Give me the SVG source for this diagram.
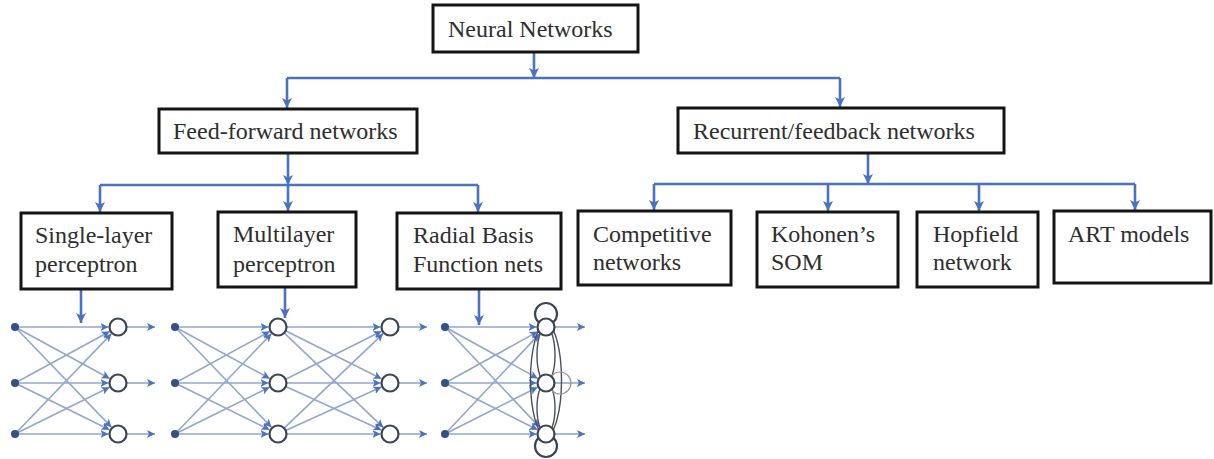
<svg xmlns="http://www.w3.org/2000/svg" width="1214" height="459" viewBox="0 0 1214 459">
<style>
.box{fill:#fff;stroke:#141414;stroke-width:3}
text{font-family:'Liberation Serif','Times New Roman',Times,'DejaVu Serif','Noto Serif',serif;font-size:24px;fill:#2e2e2e}
.conn{fill:none;stroke:#4a72c0;stroke-width:2.6}
.nl{fill:none;stroke:#93a6cf;stroke-width:1.6}
.neu{fill:#fff;stroke:#3b4457;stroke-width:2.2}
.dot{fill:#34508a}
.loop{fill:none;stroke:#4a4f5c;stroke-width:1.4}
</style>
<defs>
<marker id="arr" viewBox="0 0 10 10" refX="10" refY="5" markerUnits="userSpaceOnUse" markerWidth="10" markerHeight="10" orient="auto">
<path d="M0,0 L10,5 L0,10 L2.5,5 z" fill="#4a72c0"/>
</marker>
<marker id="arrs" viewBox="0 0 10 10" refX="10" refY="5" markerUnits="userSpaceOnUse" markerWidth="8" markerHeight="8" orient="auto">
<path d="M0,0 L10,5 L0,10 L2.5,5 z" fill="#4a72c0"/>
</marker>
</defs>
<rect width="1214" height="459" fill="#fff"/>

<g id="connectors">
<path class="conn" d="M534,52 V78" marker-end="url(#arr)"/>
<path class="conn" d="M287,78 H840"/>
<path class="conn" d="M287,78 V108" marker-end="url(#arr)"/>
<path class="conn" d="M840,78 V107" marker-end="url(#arr)"/>
<path class="conn" d="M288,153 V185" marker-end="url(#arr)"/>
<path class="conn" d="M100,185 H478"/>
<path class="conn" d="M100,185 V212" marker-end="url(#arr)"/>
<path class="conn" d="M288,185 V211" marker-end="url(#arr)"/>
<path class="conn" d="M478,185 V212" marker-end="url(#arr)"/>
<path class="conn" d="M868,153 V184" marker-end="url(#arr)"/>
<path class="conn" d="M654,184 H1135"/>
<path class="conn" d="M654,184 V210" marker-end="url(#arr)"/>
<path class="conn" d="M828,184 V211" marker-end="url(#arr)"/>
<path class="conn" d="M979,184 V211" marker-end="url(#arr)"/>
<path class="conn" d="M1135,184 V210" marker-end="url(#arr)"/>
<path class="conn" d="M81,289 V323" marker-end="url(#arr)"/>
<path class="conn" d="M285,287 V318" marker-end="url(#arr)"/>
<path class="conn" d="M479,289 V325" marker-end="url(#arr)"/>
</g>

<g id="n-neural"><rect class="box" x="433" y="5" width="205" height="47"/><text x="448" y="37" font-family="Liberation Serif, serif">Neural Networks</text></g>
<g id="n-feedforward"><rect class="box" x="159" y="109" width="258" height="44"/><text x="173" y="139" font-family="Liberation Serif, serif">Feed-forward networks</text></g>
<g id="n-recurrent"><rect class="box" x="678" y="108" width="326" height="45"/><text x="693" y="139" font-family="Liberation Serif, serif">Recurrent/feedback networks</text></g>
<g id="n-single"><rect class="box" x="21" y="213" width="151" height="76"/><text x="35" y="243" font-family="Liberation Serif, serif">Single-layer</text><text x="35" y="272" font-family="Liberation Serif, serif">perceptron</text></g>
<g id="n-multi"><rect class="box" x="218" y="212" width="138" height="75"/><text x="233" y="242" font-family="Liberation Serif, serif">Multilayer</text><text x="233" y="272" font-family="Liberation Serif, serif">perceptron</text></g>
<g id="n-rbf"><rect class="box" x="397" y="213" width="164" height="76"/><text x="413" y="243" font-family="Liberation Serif, serif">Radial Basis</text><text x="413" y="272" font-family="Liberation Serif, serif">Function nets</text></g>
<g id="n-competitive"><rect class="box" x="578" y="211" width="153" height="74"/><text x="593" y="242" font-family="Liberation Serif, serif">Competitive</text><text x="593" y="270" font-family="Liberation Serif, serif">networks</text></g>
<g id="n-kohonen"><rect class="box" x="757" y="212" width="141" height="75"/><text x="771" y="242" font-family="Liberation Serif, serif">Kohonen’s</text><text x="771" y="270" font-family="Liberation Serif, serif">SOM</text></g>
<g id="n-hopfield"><rect class="box" x="917" y="212" width="121" height="75"/><text x="933" y="242" font-family="Liberation Serif, serif">Hopfield</text><text x="933" y="270" font-family="Liberation Serif, serif">network</text></g>
<g id="n-art"><rect class="box" x="1054" y="211" width="157" height="72"/><text x="1068" y="242" font-family="Liberation Serif, serif">ART models</text></g>

<g id="net-single">
<g class="nl">
<path d="M15,327 L108.5,327" marker-end="url(#arrs)"/>
<path d="M15,327 L109.65,378.46" marker-end="url(#arrs)"/>
<path d="M15,327 L111.41,427.16" marker-end="url(#arrs)"/>
<path d="M15,383 L109.65,331.54" marker-end="url(#arrs)"/>
<path d="M15,383 L108.5,383" marker-end="url(#arrs)"/>
<path d="M15,383 L109.49,429.78" marker-end="url(#arrs)"/>
<path d="M15,434 L111.41,333.84" marker-end="url(#arrs)"/>
<path d="M15,434 L109.49,387.22" marker-end="url(#arrs)"/>
<path d="M15,434 L108.5,434" marker-end="url(#arrs)"/>
<path d="M127,327 H155" marker-end="url(#arrs)"/>
<path d="M127,383 H155" marker-end="url(#arrs)"/>
<path d="M127,434 H155" marker-end="url(#arrs)"/>
</g>
<circle class="dot" cx="15" cy="327" r="4"/><circle class="dot" cx="15" cy="383" r="4"/><circle class="dot" cx="15" cy="434" r="4"/>
<circle class="neu" cx="118" cy="327" r="8.5"/><circle class="neu" cx="118" cy="383" r="8.5"/><circle class="neu" cx="118" cy="434" r="8.5"/>
</g>

<g id="net-multi">
<g class="nl">
<path d="M175,327 L268.5,327" marker-end="url(#arrs)"/>
<path d="M175,327 L269.65,378.46" marker-end="url(#arrs)"/>
<path d="M175,327 L271.41,427.16" marker-end="url(#arrs)"/>
<path d="M175,383 L269.65,331.54" marker-end="url(#arrs)"/>
<path d="M175,383 L268.5,383" marker-end="url(#arrs)"/>
<path d="M175,383 L269.49,429.78" marker-end="url(#arrs)"/>
<path d="M175,434 L271.41,333.84" marker-end="url(#arrs)"/>
<path d="M175,434 L269.49,387.22" marker-end="url(#arrs)"/>
<path d="M175,434 L268.5,434" marker-end="url(#arrs)"/>
<path d="M286.5,327 L380.5,327" marker-end="url(#arrs)"/>
<path d="M285.6,330.8 L381.5,378.75" marker-end="url(#arrs)"/>
<path d="M284.15,332.87 L383.13,427.44" marker-end="url(#arrs)"/>
<path d="M285.6,379.2 L381.5,331.25" marker-end="url(#arrs)"/>
<path d="M286.5,383 L380.5,383" marker-end="url(#arrs)"/>
<path d="M285.74,386.52 L381.35,430.06" marker-end="url(#arrs)"/>
<path d="M284.15,428.13 L383.13,333.56" marker-end="url(#arrs)"/>
<path d="M285.74,430.48 L381.35,386.94" marker-end="url(#arrs)"/>
<path d="M286.5,434 L380.5,434" marker-end="url(#arrs)"/>
<path d="M399,327 H427" marker-end="url(#arrs)"/>
<path d="M399,383 H427" marker-end="url(#arrs)"/>
<path d="M399,434 H427" marker-end="url(#arrs)"/>
</g>
<circle class="dot" cx="175" cy="327" r="4"/><circle class="dot" cx="175" cy="383" r="4"/><circle class="dot" cx="175" cy="434" r="4"/>
<circle class="neu" cx="278" cy="327" r="8.5"/><circle class="neu" cx="278" cy="383" r="8.5"/><circle class="neu" cx="278" cy="434" r="8.5"/>
<circle class="neu" cx="390" cy="327" r="8.5"/><circle class="neu" cx="390" cy="383" r="8.5"/><circle class="neu" cx="390" cy="434" r="8.5"/>
</g>

<g id="net-rbf">
<g class="nl">
<path d="M445,327 L536.5,327" marker-end="url(#arrs)"/>
<path d="M445,327 L537.69,378.39" marker-end="url(#arrs)"/>
<path d="M445,327 L539.48,427.09" marker-end="url(#arrs)"/>
<path d="M445,383 L537.69,331.61" marker-end="url(#arrs)"/>
<path d="M445,383 L536.5,383" marker-end="url(#arrs)"/>
<path d="M445,383 L537.52,429.72" marker-end="url(#arrs)"/>
<path d="M445,434 L539.48,333.91" marker-end="url(#arrs)"/>
<path d="M445,434 L537.52,387.28" marker-end="url(#arrs)"/>
<path d="M445,434 L536.5,434" marker-end="url(#arrs)"/>
<path d="M555,327 H585" marker-end="url(#arrs)"/>
<path d="M555,383 H585" marker-end="url(#arrs)"/>
<path d="M555,434 H585" marker-end="url(#arrs)"/>
</g>
<circle class="dot" cx="445" cy="327" r="4"/><circle class="dot" cx="445" cy="383" r="4"/><circle class="dot" cx="445" cy="434" r="4"/>
<ellipse class="loop" cx="546" cy="380" rx="15.5" ry="56"/>
<ellipse class="loop" cx="546" cy="355" rx="9" ry="28"/>
<ellipse class="loop" cx="546" cy="408" rx="9" ry="26"/>
<circle cx="560" cy="383" r="11" fill="none" stroke="#9a9aa4" stroke-width="1.2"/>
<circle class="neu" cx="546" cy="314" r="11"/>
<circle class="neu" cx="546" cy="446" r="11"/>
<circle class="neu" cx="546" cy="327" r="8.5"/><circle class="neu" cx="546" cy="383" r="8.5"/><circle class="neu" cx="546" cy="434" r="8.5"/>
</g>
</svg>
